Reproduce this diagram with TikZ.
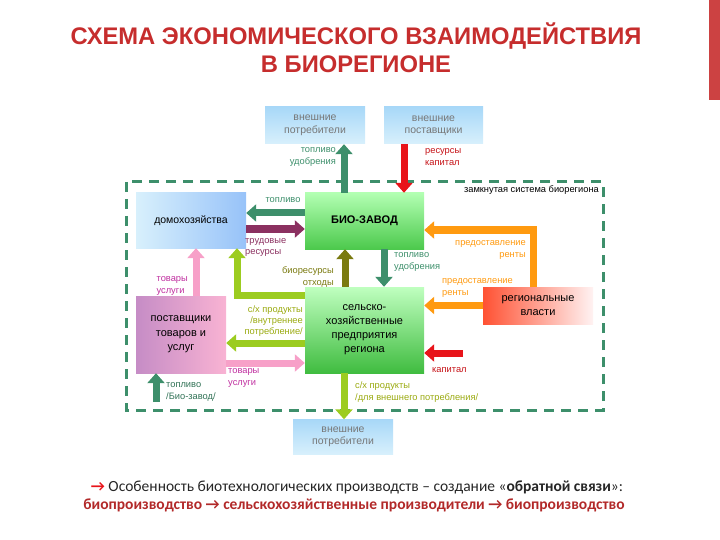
\documentclass[tikz,border=0pt]{standalone}
\usepackage{fontspec}
\setmainfont{Liberation Sans}
\newfontfamily\carl{Carlito}
\usetikzlibrary{arrows.meta}
\definecolor{teal1}{HTML}{3D8F6B}
\definecolor{purp}{HTML}{8B3060}
\definecolor{ygreen}{HTML}{9CCC20}
\definecolor{olive1}{HTML}{7A7A10}
\definecolor{orng}{HTML}{FF9A10}
\definecolor{pnk}{HTML}{F7A0C8}
\definecolor{redd}{HTML}{E8141A}
\definecolor{titler}{HTML}{C62D2D}
\definecolor{mag}{HTML}{C030A0}
\definecolor{yolive}{HTML}{9AAA10}
\definecolor{lbltxt}{HTML}{777777}
\definecolor{lb1}{HTML}{A8D8F8}
\definecolor{lb2}{HTML}{D8F0FC}
\tikzset{
 box/.style={inner sep=1pt,align=center,font=\fontsize{10.5}{12.5}\selectfont},
 ext/.style={box,top color=lb1,bottom color=lb2,text=lbltxt},
 big/.style={line width=7pt,-{Triangle[width=17pt,length=10pt]}},
 lbl/.style={font=\fontsize{9.3}{11.3}\selectfont,inner sep=0pt,align=#1},
 lbl/.default=left
}
\begin{document}
\begin{tikzpicture}[x=1pt,y=-1pt]
\useasboundingbox (0,0) rectangle (720,540);
\fill[titler!90] (709,0) rectangle (720,100);
\node[text=titler,font=\fontsize{24}{28}\selectfont\bfseries,align=center] (title) at (356,48)
 {\scalebox{0.99}[1]{СХЕМА ЭКОНОМИЧЕСКОГО ВЗАИМОДЕЙСТВИЯ}\\\scalebox{0.99}[1]{В БИОРЕГИОНЕ}};
% frame
\draw[teal1,line width=3pt,dash pattern=on 10pt off 7pt] (126,182) rectangle (603,410);
\node[lbl,anchor=east] (zs) at (599,190) {замкнутая система биорегиона};
% boxes
\node[ext,minimum width=100pt,minimum height=37pt] (ext1) at (315,125.5) {внешние\\потребители};
\node[ext,minimum width=99pt,minimum height=37pt] (ext2) at (433.5,125.5) {внешние\\поставщики};
\node[ext,minimum width=100pt,minimum height=35pt] (ext3) at (343,437) {внешние\\потребители};
\node[box,minimum width=110pt,minimum height=55pt,left color=lb2,right color=lb1!90!blue] (home) at (191,220.5) {домохозяйства};
\node[box,minimum width=119pt,minimum height=56pt,top color=green!30,bottom color=green!70!black!70,font=\fontsize{11}{13}\selectfont\bfseries] (bio) at (364.5,221) {БИО-ЗАВОД};
\node[box,minimum width=119pt,minimum height=86pt,top color=green!25,bottom color=green!65!black!75,font=\fontsize{11}{14}\selectfont] (agr) at (364.5,330) {сельско-\\хозяйственные\\предприятия\\региона};
\node[box,minimum width=90pt,minimum height=77pt,left color=violet!45,right color=pnk!80,font=\fontsize{11}{14.5}\selectfont] (sup) at (181,334.5) {поставщики\\товаров и\\услуг};
\node[box,minimum width=110pt,minimum height=37pt,left color=red!70!orange!80,right color=red!5,font=\fontsize{11}{14}\selectfont] (reg) at (538,305.5) {региональные\\власти};
\coordinate (capin) at (463,353);
\coordinate (fuelin) at (156,402);
% arrows
\draw[big,teal1] ([xshift=-20.5pt]bio.north) -- ([xshift=-20.5pt]bio.north |- ext1.south);
\draw[big,redd] ([xshift=-29.5pt]ext2.south) -- ([xshift=-29.5pt]ext2.south |- bio.north);
\draw[big,teal1] ([yshift=8pt]bio.west) -- ([yshift=8pt]bio.west -| home.east);
\draw[big,purp] ([yshift=-8.5pt]home.east) -- ([yshift=-8.5pt]home.east -| bio.west);
\draw[big,ygreen] ([yshift=35pt]agr.west) -| ([xshift=46pt]home.south);
\draw[big,olive1] ([xshift=-19.5pt]agr.north) -- ([xshift=-19.5pt]bio.south);
\draw[big,teal1] ([xshift=19.5pt]bio.south) -- ([xshift=19.5pt]agr.north);
\draw[big,orng] ([xshift=-5pt]reg.north) |- ([yshift=-9pt]bio.east);
\draw[big,orng] (reg.west) -- (reg.west -| agr.east);
\draw[big,redd] (capin) -- (capin -| agr.east);
\draw[big,ygreen] ([yshift=-13pt]agr.west) -- ([yshift=-13pt]agr.west -| sup.east);
\draw[big,pnk] ([yshift=-28.5pt]sup.east) -- ([yshift=-28.5pt]sup.east -| agr.west);
\draw[big,pnk] ([xshift=15pt]sup.north) -- ([xshift=15pt]sup.north |- home.south);
\draw[big,teal1] (fuelin) -- (fuelin |- sup.south);
\draw[big,ygreen] ([xshift=-20.5pt]agr.south) -- ([xshift=-20.5pt]agr.south |- ext3.north);
% labels
\node[lbl=right,anchor=east,text=teal1] (l1) at (336,157) {топливо\\удобрения};
\node[lbl=left,anchor=west,text=redd!85!black] (l2) at (425,157) {ресурсы\\капитал};
\node[lbl,anchor=south,text=teal1] (l3) at (283,203) {топливо};
\node[lbl,anchor=north west,text=purp] (l4) at (245,238) {трудовые\\ресурсы};
\node[lbl=right,anchor=east,text=olive1] (l5) at (334,277) {биоресурсы\\отходы};
\node[lbl,anchor=west,text=teal1] (l6) at (394,262) {топливо\\удобрения};
\node[lbl=right,anchor=east,text=orng] (l7) at (526,250) {предоставление\\ренты};
\node[lbl,anchor=west,text=orng] (l8) at (442,288) {предоставление\\ренты};
\node[lbl,anchor=west,text=redd!85!black] (l9) at (432,370) {капитал};
\node[lbl=right,anchor=east,text=yolive] (l10) at (303,321) {с/х продукты\\/внутреннее\\потребление/};
\node[lbl,anchor=west,text=mag] (l11) at (228,378) {товары\\услуги};
\node[lbl,anchor=east,text=mag] (l12) at (188,286) {товары\\услуги};
\node[lbl,anchor=west,text=teal1!80!black] (l13) at (166,392) {топливо\\/Био-завод/};
\node[lbl,anchor=west,text=yolive] (l14) at (355,392) {с/х продукты\\/для внешнего потребления/};
% bottom
\node[font=\carl\fontsize{15.5}{18}\selectfont,text=black!85,anchor=center] (b1) at (357,487)
 {{\color{redd}\textbf{→}} Особенность биотехнологических производств – создание «\textbf{обратной связи}»:};
\node[font=\carl\bfseries\fontsize{15.5}{18}\selectfont,text=titler!90!black,anchor=center] (b2) at (354,505)
 {биопроизводство → сельскохозяйственные производители → биопроизводство};
\end{tikzpicture}
\end{document}
